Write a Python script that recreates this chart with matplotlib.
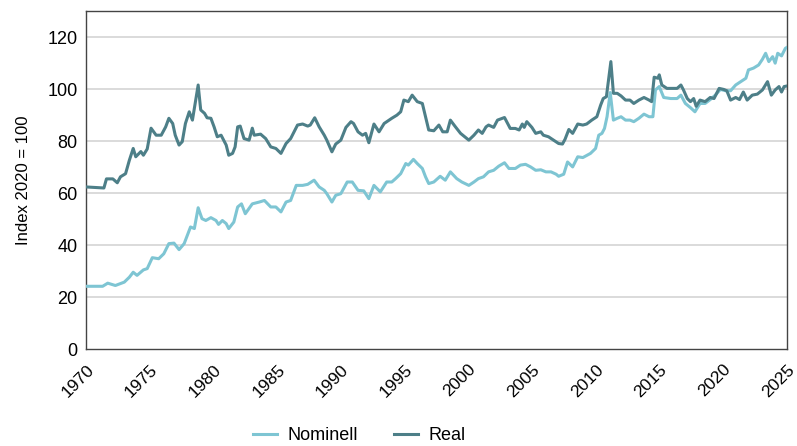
import matplotlib
matplotlib.use('Agg')
import matplotlib.pyplot as plt

# values (year, index 2020 = 100)
nom_years = [1970.0, 1971.3, 1971.7, 1972.3, 1973.0, 1973.4, 1973.7, 1974.0, 1974.5, 1974.8,
             1975.2, 1975.7, 1976.1, 1976.5, 1976.9, 1977.3, 1977.7, 1978.0, 1978.2, 1978.5,
             1978.8, 1979.1, 1979.4, 1979.8, 1980.2, 1980.4, 1980.7, 1981.0, 1981.2, 1981.6,
             1981.9, 1982.2, 1982.5, 1983.05, 1983.6, 1984.0, 1984.5, 1984.9, 1985.3, 1985.7,
             1986.06, 1986.5, 1987.0, 1987.4, 1987.9, 1988.3, 1988.7, 1988.9, 1989.3, 1989.6,
             1990.0, 1990.5, 1990.9, 1991.35, 1991.8, 1992.2, 1992.6, 1993.1, 1993.6, 1994.0,
             1994.3, 1994.7, 1995.1, 1995.3, 1995.7, 1996.0, 1996.4, 1996.65, 1996.9, 1997.3,
             1997.8, 1998.2, 1998.6, 1999.1, 1999.5, 2000.05, 2000.45, 2000.8, 2001.2, 2001.6,
             2002.0, 2002.4, 2002.85, 2003.2, 2003.7, 2004.1, 2004.5, 2004.9, 2005.3, 2005.7,
             2006.1, 2006.5, 2006.9, 2007.1, 2007.5, 2007.8, 2008.2, 2008.6, 2009.0, 2009.6,
             2010.0, 2010.25, 2010.5, 2010.7, 2010.9, 2011.15, 2011.4, 2011.7, 2012.0, 2012.35,
             2012.7, 2013.0, 2013.4, 2013.8, 2014.2, 2014.5, 2014.7, 2015.0, 2015.35, 2015.9,
             2016.4, 2016.7, 2017.05, 2017.45, 2017.8, 2018.2, 2018.6, 2019.0, 2019.4, 2019.8,
             2020.2, 2020.6, 2021.0, 2021.4, 2021.8, 2022.0, 2022.4, 2022.8, 2023.1, 2023.35,
             2023.6, 2023.9, 2024.1, 2024.3, 2024.6, 2024.9, 2025.0]
nominell = [24.2, 24.2, 25.4, 24.5, 25.8, 27.7, 29.6, 28.4, 30.5, 31.0,
            35.2, 34.8, 36.7, 40.6, 40.8, 38.3, 40.6, 44.4, 47.0, 46.4,
            54.4, 50.2, 49.5, 50.6, 49.5, 48.0, 49.5, 48.3, 46.4, 48.9,
            54.7, 55.9, 52.1, 55.9, 56.6, 57.2, 54.7, 54.7, 52.8, 56.6,
            57.2, 63.0, 63.0, 63.4, 65.0, 62.4, 61.1, 59.8, 56.6, 59.2,
            59.8, 64.3, 64.3, 61.1, 60.9, 57.9, 63.0, 60.5, 64.3, 64.3,
            65.6, 67.5, 71.4, 70.8, 73.0, 71.4, 69.5, 66.3, 63.7, 64.3,
            66.5, 65.0, 68.2, 65.6, 64.3, 63.0, 64.3, 65.6, 66.3, 68.2,
            68.8, 70.4, 71.7, 69.5, 69.5, 70.8, 71.1, 70.1, 68.8, 69.0,
            68.2, 68.2, 67.3, 66.5, 67.3, 72.0, 70.1, 74.0, 73.7, 75.3,
            77.2, 82.3, 83.0, 84.9, 89.4, 98.7, 88.1, 88.8, 89.4, 88.1,
            88.1, 87.5, 88.8, 90.4, 89.4, 89.4, 99.7, 101.0, 96.8, 96.4,
            96.4, 97.7, 94.5, 92.9, 91.3, 94.5, 94.5, 96.0, 97.7, 99.9,
            99.4, 99.4, 101.6, 102.9, 104.2, 107.4, 108.1, 109.3, 111.5, 113.8,
            110.6, 112.5, 110.0, 113.8, 112.8, 115.7, 116.0]

real_years = [1970.0, 1971.4, 1971.6, 1972.1, 1972.45, 1972.7, 1973.1, 1973.4, 1973.7, 1973.9,
              1974.3, 1974.5, 1974.8, 1975.1, 1975.5, 1975.9, 1976.25, 1976.5, 1976.8, 1977.0,
              1977.3, 1977.55, 1977.8, 1978.1, 1978.35, 1978.5, 1978.8, 1979.0, 1979.3, 1979.5,
              1979.8, 1980.05, 1980.3, 1980.6, 1981.0, 1981.2, 1981.5, 1981.7, 1981.9, 1982.1,
              1982.4, 1982.8, 1983.05, 1983.2, 1983.7, 1984.1, 1984.5, 1984.9, 1985.3, 1985.7,
              1986.06, 1986.6, 1987.0, 1987.4, 1987.6, 1987.95, 1988.3, 1988.7, 1988.9, 1989.3,
              1989.6, 1990.0, 1990.4, 1990.8, 1991.0, 1991.35, 1991.7, 1991.95, 1992.2, 1992.6,
              1993.0, 1993.4, 1994.0, 1994.4, 1994.7, 1994.95, 1995.3, 1995.6, 1996.0, 1996.4,
              1996.65, 1996.9, 1997.3, 1997.7, 1998.0, 1998.35, 1998.6, 1999.0, 1999.4, 1999.8,
              2000.05, 2000.45, 2000.8, 2001.1, 2001.4, 2001.6, 2002.0, 2002.3, 2002.85, 2003.1,
              2003.3, 2003.7, 2004.0, 2004.25, 2004.4, 2004.6, 2005.0, 2005.3, 2005.7, 2005.9,
              2006.3, 2006.7, 2007.1, 2007.4, 2007.6, 2007.9, 2008.2, 2008.6, 2009.0, 2009.3,
              2009.7, 2010.1, 2010.4, 2010.6, 2010.85, 2011.0, 2011.2, 2011.4, 2011.7, 2012.0,
              2012.35, 2012.7, 2013.0, 2013.4, 2013.8, 2014.2, 2014.4, 2014.6, 2014.9, 2015.0,
              2015.2, 2015.6, 2016.0, 2016.4, 2016.7, 2016.9, 2017.2, 2017.45, 2017.7, 2017.9,
              2018.2, 2018.6, 2019.0, 2019.3, 2019.7, 2020.06, 2020.3, 2020.6, 2021.0, 2021.3,
              2021.6, 2021.9, 2022.3, 2022.7, 2023.1, 2023.5, 2023.8, 2024.1, 2024.4, 2024.6,
              2024.8, 2025.0]
real = [62.4, 62.0, 65.5, 65.5, 64.0, 66.3, 67.5, 72.7, 77.2, 74.0,
        76.0, 74.6, 77.0, 85.0, 82.3, 82.3, 85.5, 88.8, 86.8, 82.3,
        78.5, 79.8, 86.8, 91.3, 88.1, 92.6, 101.6, 92.0, 90.7, 89.0,
        88.8, 85.5, 81.7, 82.3, 78.5, 74.6, 75.3, 77.8, 85.5, 85.8,
        81.0, 80.4, 85.0, 82.3, 82.7, 81.0, 77.8, 77.2, 75.3, 79.1,
        81.0, 86.2, 86.6, 85.8, 86.2, 89.0, 85.5, 82.3, 80.4, 75.9,
        78.9, 80.4, 85.3, 87.5, 86.8, 83.6, 82.3, 83.0, 79.4, 86.6,
        83.6, 86.8, 88.8, 90.0, 91.3, 95.8, 95.2, 97.7, 95.2, 94.5,
        89.4, 84.3, 84.0, 86.2, 83.6, 83.6, 88.1, 85.5, 83.0, 81.4,
        80.4, 82.3, 84.3, 83.0, 85.5, 86.2, 85.3, 88.1, 89.1, 86.8,
        84.9, 84.9, 84.3, 86.6, 85.3, 87.5, 85.3, 83.0, 83.6, 82.3,
        81.7, 80.4, 79.1, 78.9, 80.7, 84.5, 83.0, 86.6, 86.2, 86.6,
        88.1, 89.4, 93.9, 96.4, 97.1, 102.9, 110.6, 98.4, 98.4, 97.4,
        95.8, 95.8, 94.5, 95.8, 96.8, 95.8, 95.2, 104.6, 104.2, 105.5,
        101.6, 100.3, 100.3, 100.3, 101.6, 99.7, 96.4, 95.2, 96.4, 93.4,
        95.8, 95.2, 96.8, 96.4, 100.3, 99.9, 99.4, 95.8, 96.8, 96.0,
        98.9, 95.8, 97.7, 98.1, 99.7, 102.9, 97.7, 99.7, 101.0, 98.9,
        101.0, 101.2]

xticks = list(range(1970, 2026, 5))
yticks = [0, 20, 40, 60, 80, 100, 120]

plt.rcParams['font.family'] = ['Liberation Sans', 'DejaVu Sans']

fig = plt.figure(figsize=(7.97, 4.46), dpi=100)
ax = fig.add_axes([0.108, 0.217, 0.879, 0.758])

ax.plot(nom_years, nominell, color='#7ec5d3', linewidth=2.2, label='Nominell', zorder=3)
ax.plot(real_years, real, color='#4d7f88', linewidth=2.2, label='Real', zorder=4)

ax.set_xlim(1970, 2025)
ax.set_ylim(0, 130)
ax.set_xticks(xticks)
ax.set_yticks(yticks)
ax.set_xticklabels([str(t) for t in xticks], rotation=45, ha='right', rotation_mode='anchor', fontsize=12.5)
plt.setp(ax.get_yticklabels(), fontsize=13)
ax.tick_params(axis='x', length=0, pad=9)
ax.tick_params(axis='y', length=0, pad=6)
ax.set_ylabel('Index 2020 = 100', fontsize=12, labelpad=12)

for y in yticks[1:]:
    ax.axhline(y, color='#d4d4d4', linewidth=1.2, zorder=1)

for s in ax.spines.values():
    s.set_color('#444444')
    s.set_linewidth(1.0)

ax.legend(loc='center', bbox_to_anchor=(0.39, -0.255), ncol=2, frameon=False,
          fontsize=13, handlelength=1.3, handletextpad=0.6, columnspacing=2.0)

fig.savefig('out.png', dpi=100)
